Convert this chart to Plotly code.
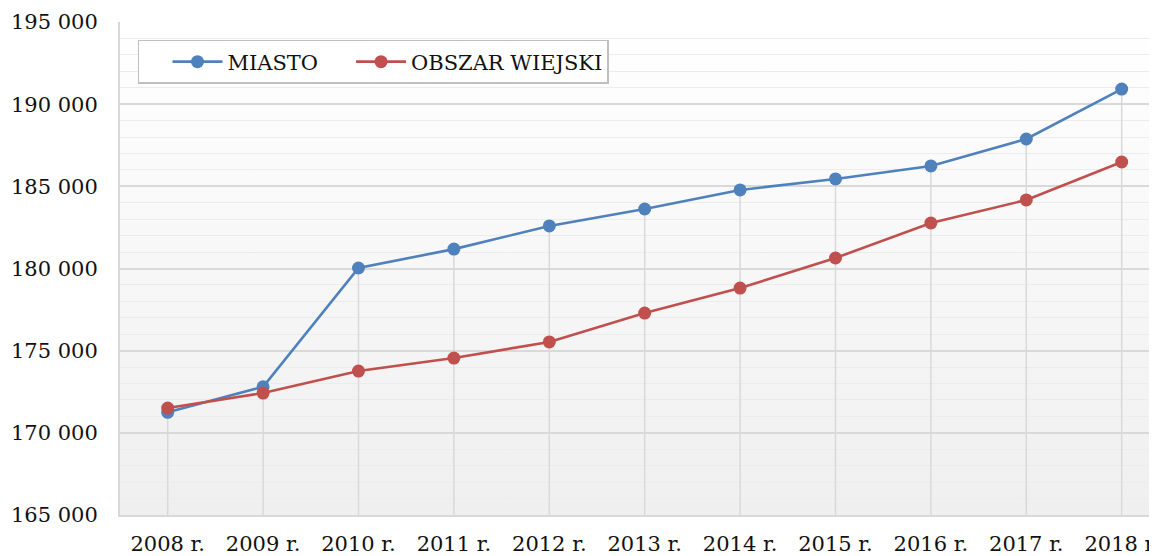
import base64
import plotly.graph_objects as go

years = ["2008 r.", "2009 r.", "2010 r.", "2011 r.", "2012 r.", "2013 r.",
         "2014 r.", "2015 r.", "2016 r.", "2017 r.", "2018 r."]
miasto = [171250, 172800, 180030, 181180, 182590, 183620, 184780, 185450, 186240, 187880, 190920]
wiejski = [171510, 172420, 173760, 174550, 175530, 177290, 178810, 180640, 182770, 184170, 186480]
y_ticks = [165000, 170000, 175000, 180000, 185000, 190000, 195000]

BLUE = "#4f81bd"
RED = "#c0504d"
GRID = "#d9d9d9"
FONT = "DejaVu Serif"

# drop lines from highest point down to the axis minimum
base = y_ticks[0]
dx, dy = [], []
for i, yr in enumerate(years):
    top = max(miasto[i], wiejski[i])
    dx += [yr, yr, None]
    dy += [top, base, None]

fig = go.Figure()
fig.add_trace(go.Scatter(x=dx, y=dy, mode="lines", line=dict(color=GRID, width=1.5),
                         showlegend=False, hoverinfo="skip"))
fig.add_trace(go.Scatter(x=years, y=miasto, name="MIASTO", mode="lines+markers",
                         line=dict(color=BLUE, width=2.6), marker=dict(size=13, color=BLUE)))
fig.add_trace(go.Scatter(x=years, y=wiejski, name="OBSZAR WIEJSKI", mode="lines+markers",
                         line=dict(color=RED, width=2.6), marker=dict(size=13, color=RED)))

svg = ('<svg xmlns="http://www.w3.org/2000/svg" width="10" height="100" preserveAspectRatio="none">'
       '<defs><linearGradient id="g" x1="0" y1="0" x2="0" y2="1">'
       '<stop offset="0" stop-color="#ffffff"/><stop offset="1" stop-color="#efefef"/>'
       '</linearGradient></defs><rect width="10" height="100" fill="url(#g)"/></svg>')
src = "data:image/svg+xml;base64," + base64.b64encode(svg.encode()).decode()

fig.update_layout(
    width=1157, height=556,
    margin=dict(l=112, r=0, t=14, b=49),
    paper_bgcolor="white",
    plot_bgcolor="rgba(0,0,0,0)",
    separators=". ",
    font=dict(family=FONT, size=21, color="#111111"),
    images=[dict(source=src, xref="paper", yref="paper", x=0, y=1, sizex=1, sizey=1,
                 sizing="stretch", layer="below", xanchor="left", yanchor="top")],
    legend=dict(orientation="h", x=0.0172, y=0.9635, xanchor="left", yanchor="top",
                bgcolor="white", bordercolor="#bfbfbf", borderwidth=1.5,
                font=dict(family=FONT, size=21, color="#111111"),
                itemwidth=50, indentation=28, traceorder="normal"),
    showlegend=True,
)
fig.update_xaxes(type="category", range=[-0.5, 10.454], showgrid=False, automargin=False,
                 showline=True, linecolor=GRID, linewidth=2,
                 ticks="", ticklabelstandoff=9, tickfont=dict(size=21))
fig.update_yaxes(range=[165000, 195000], tickvals=y_ticks, tickformat=",d", automargin=False,
                 showgrid=True, gridcolor=GRID, gridwidth=1.5,
                 minor=dict(dtick=1000, showgrid=True, gridcolor="#ececec", gridwidth=1.2),
                 showline=True, linecolor=GRID, linewidth=2, zeroline=False,
                 ticks="", ticklabelstandoff=16, tickfont=dict(size=21))

fig.write_html("out.html")
